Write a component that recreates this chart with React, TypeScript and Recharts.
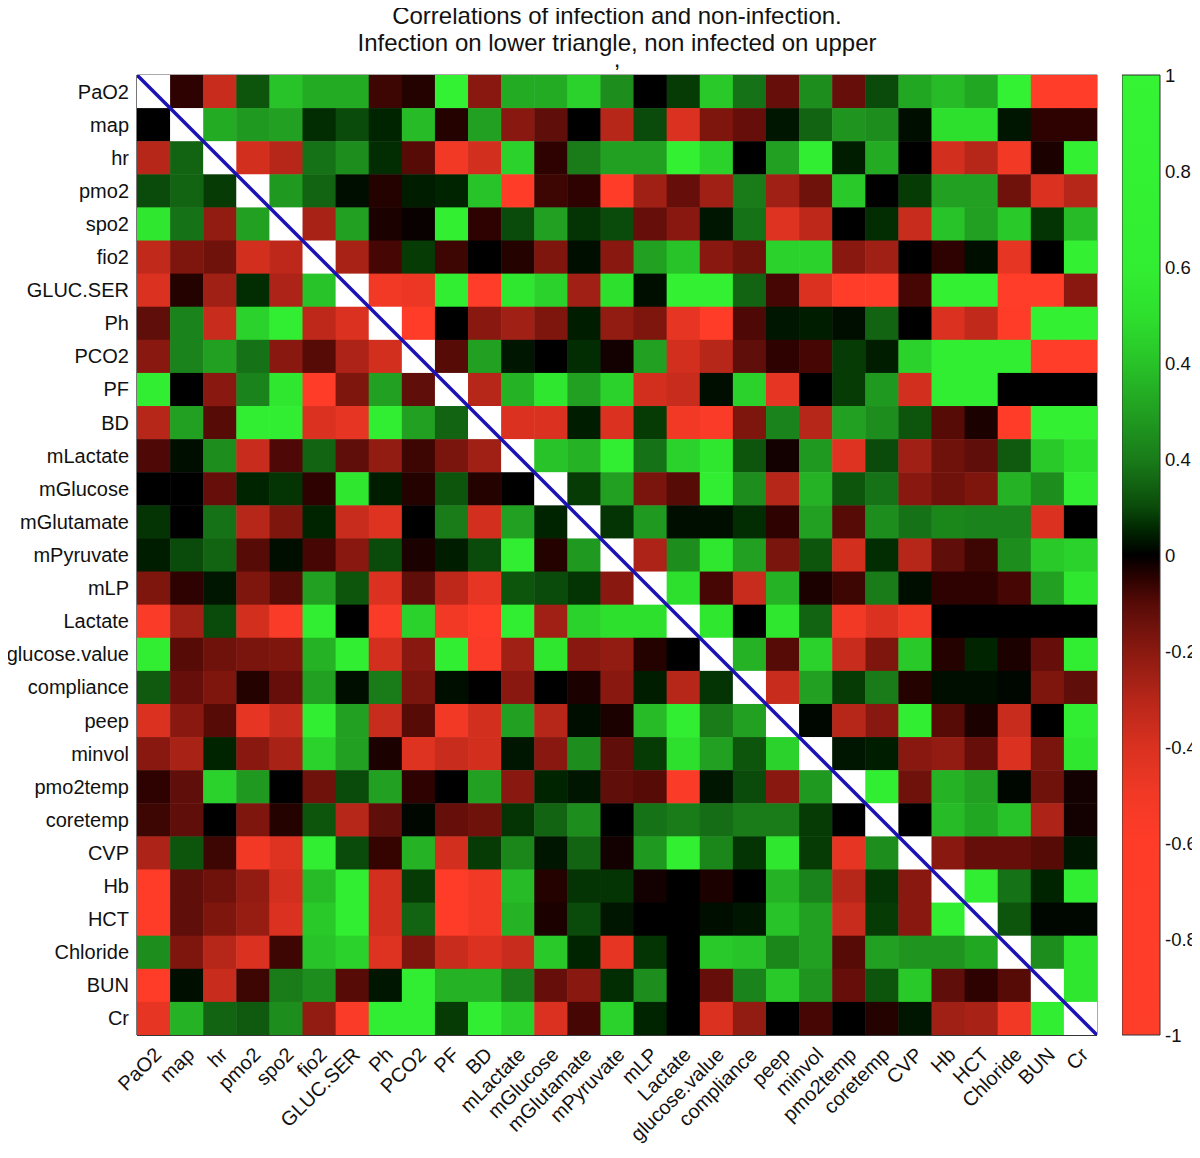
import React from "react";
import { ScatterChart, Scatter, XAxis, YAxis, ReferenceArea, BarChart, Bar } from "recharts";

const LABELS = ["PaO2","map","hr","pmo2","spo2","fio2","GLUC.SER","Ph","PCO2","PF","BD","mLactate","mGlucose","mGlutamate","mPyruvate","mLP","Lactate","glucose.value","compliance","peep","minvol","pmo2temp","coretemp","CVP","Hb","HCT","Chloride","BUN","Cr"];

const TITLE_LINES = ["Correlations of infection and non-infection.", "Infection on lower triangle, non infected on upper", ","];

// one row per variable (row = y label, column = x label)
const rowPaO2 = [1, -0.05, -0.35, 0.12, 0.4, 0.33, 0.33, -0.07, -0.04, 0.8, -0.2, 0.33, 0.33, 0.45, 0.25, 0, 0.08, 0.42, 0.18, -0.13, 0.25, -0.13, 0.1, 0.32, 0.38, 0.32, 0.8, -0.8, -0.8];
const rowMap = [0, 1, 0.33, 0.28, 0.3, 0.06, 0.1, 0.05, 0.38, -0.04, 0.3, -0.2, -0.12, 0, -0.3, 0.1, -0.4, -0.18, -0.13, 0.03, 0.15, 0.27, 0.25, 0.02, 0.5, 0.5, 0.03, -0.05, -0.05];
const rowHr = [-0.3, 0.15, 1, -0.38, -0.3, 0.18, 0.25, 0.06, -0.1, -0.5, -0.38, 0.45, -0.05, 0.2, 0.3, 0.3, 0.7, 0.45, 0, 0.3, 0.6, 0.04, 0.33, 0, -0.38, -0.3, -0.5, -0.03, 0.7];
const rowPmo2 = [0.1, 0.15, 0.08, 1, 0.28, 0.15, 0.02, -0.04, 0.04, 0.05, 0.4, -0.6, -0.07, -0.05, -0.6, -0.25, -0.13, -0.25, 0.2, -0.25, -0.15, 0.42, 0, 0.08, 0.3, 0.3, -0.15, -0.4, -0.3];
const rowSpo2 = [0.55, 0.18, -0.22, 0.3, 1, -0.27, 0.3, -0.03, -0.01, 0.65, -0.05, 0.1, 0.3, 0.07, 0.1, -0.13, -0.2, 0.03, 0.18, -0.42, -0.32, 0, 0.06, -0.35, 0.4, 0.3, 0.42, 0.07, 0.38];
const rowFio2 = [-0.33, -0.18, -0.15, -0.38, -0.32, 1, -0.27, -0.08, 0.08, -0.07, 0, -0.04, -0.18, 0.02, -0.2, 0.3, 0.4, -0.2, -0.15, 0.45, 0.45, -0.2, -0.25, 0, -0.05, 0.02, -0.45, 0, 0.7];
const rowGlucSer = [-0.4, -0.04, -0.25, 0.06, -0.28, 0.4, 1, -0.5, -0.48, 0.6, -0.7, 0.55, 0.45, -0.25, 0.5, 0.02, 0.7, 0.7, 0.15, -0.08, -0.4, -0.7, -0.7, -0.08, 0.7, 0.7, -0.7, -0.7, -0.2];
const rowPh = [-0.12, 0.22, -0.35, 0.45, 0.6, -0.32, -0.4, 1, -0.65, 0, -0.2, -0.25, -0.18, 0.04, -0.22, -0.18, -0.45, -0.6, -0.09, 0.03, 0.04, 0.02, 0.15, 0, -0.4, -0.33, -0.6, 0.7, 0.7];
const rowPco2 = [-0.2, 0.22, 0.3, 0.18, -0.2, -0.1, -0.28, -0.38, 1, -0.1, 0.3, 0.03, 0, 0.06, -0.02, 0.3, -0.38, -0.3, -0.12, -0.05, -0.08, 0.08, 0.04, 0.45, 0.6, 0.6, 0.6, -0.7, -0.7];
const rowPF = [0.6, 0, -0.2, 0.22, 0.55, -0.65, -0.18, 0.3, -0.12, 1, -0.3, 0.35, 0.55, 0.3, 0.45, -0.38, -0.35, 0.02, 0.45, -0.45, 0, 0.08, 0.28, -0.38, 0.6, 0.6, 0, 0, 0];
const rowBD = [-0.3, 0.3, -0.1, 0.6, 0.6, -0.4, -0.45, 0.6, 0.3, 0.15, 1, -0.4, -0.4, 0.04, -0.4, 0.08, -0.5, -0.55, -0.18, 0.22, -0.3, 0.3, 0.25, 0.12, -0.1, -0.03, -0.6, 0.7, 0.7];
const rowMLactate = [-0.09, 0.02, 0.25, -0.35, -0.09, 0.15, -0.12, -0.22, -0.07, -0.17, -0.25, 1, 0.4, 0.35, 0.6, 0.18, 0.45, 0.55, 0.12, -0.02, 0.28, -0.42, 0.1, -0.25, -0.15, -0.12, 0.13, 0.42, 0.5];
const rowMGlucose = [0, 0, -0.13, 0.05, 0.07, -0.05, 0.55, 0.04, -0.04, 0.12, -0.04, 0, 1, 0.08, 0.3, -0.17, -0.1, 0.6, 0.25, -0.3, 0.35, 0.12, 0.18, -0.2, -0.15, -0.18, 0.35, 0.25, 0.6];
const rowMGlutamate = [0.07, 0, 0.18, -0.3, -0.18, 0.05, -0.35, -0.42, 0, 0.2, -0.38, 0.3, 0.05, 1, 0.07, 0.28, 0.02, 0.02, 0.06, -0.05, 0.3, -0.1, 0.25, 0.18, 0.23, 0.22, 0.22, -0.4, 0];
const rowMPyruvate = [0.04, 0.1, 0.15, -0.1, 0.02, -0.08, -0.2, 0.1, -0.03, 0.04, 0.1, 0.6, -0.04, 0.28, 1, -0.28, 0.25, 0.55, 0.3, -0.17, 0.12, -0.38, 0.06, -0.3, -0.12, -0.07, 0.25, 0.42, 0.45];
const rowMLP = [-0.18, -0.05, 0.03, -0.18, -0.1, 0.3, 0.12, -0.4, -0.12, -0.32, -0.45, 0.12, 0.1, 0.07, -0.2, 1, 0.5, -0.08, -0.35, 0.35, -0.03, -0.07, 0.2, 0.02, -0.05, -0.05, -0.08, 0.3, 0.55];
const rowLactate = [-0.55, -0.25, 0.1, -0.38, -0.55, 0.6, 0, -0.55, 0.45, -0.5, -0.6, 0.6, -0.25, 0.45, 0.5, 0.5, 1, 0.55, 0, 0.55, 0.15, -0.5, -0.4, -0.5, 0, 0, 0, 0, 0];
const rowGlucoseValue = [0.6, -0.1, -0.15, -0.17, -0.18, 0.35, 0.6, -0.38, -0.2, 0.6, -0.55, -0.25, 0.55, -0.2, -0.22, -0.04, 0, 1, 0.35, -0.1, 0.45, -0.35, -0.18, 0.42, -0.04, 0.05, -0.03, -0.13, 0.6];
const rowCompliance = [0.13, -0.13, -0.18, -0.04, -0.13, 0.3, 0.02, 0.2, -0.17, 0.02, 0, -0.2, 0, -0.03, -0.2, 0.04, -0.3, 0.07, 1, -0.35, 0.3, 0.08, 0.2, -0.04, 0.02, 0.02, 0.01, -0.18, -0.12];
const rowPeep = [-0.4, -0.2, -0.1, -0.45, -0.35, 0.6, 0.3, -0.35, -0.1, -0.5, -0.38, 0.3, -0.3, 0.02, -0.03, 0.38, 0.6, 0.2, 0.3, 1, 0.01, -0.3, -0.2, 0.6, -0.1, -0.03, -0.35, 0, 0.6];
const rowMinvol = [-0.2, -0.27, 0.05, -0.2, -0.27, 0.45, 0.3, -0.03, -0.42, -0.35, -0.38, 0.03, -0.2, 0.25, -0.12, 0.08, 0.5, 0.3, 0.12, 0.45, 1, 0.03, 0.04, -0.2, -0.22, -0.13, -0.4, -0.17, 0.55];
const rowPmo2temp = [-0.05, -0.12, 0.45, 0.28, 0, -0.15, 0.1, 0.3, -0.05, 0, 0.3, -0.2, 0.05, 0.03, -0.12, -0.1, -0.55, 0.03, 0.1, -0.2, 0.28, 1, 0.6, -0.15, 0.35, 0.3, 0.01, -0.15, -0.02];
const rowCoretemp = [-0.07, -0.12, 0, -0.18, -0.04, 0.12, -0.3, -0.12, 0.01, -0.13, -0.15, 0.07, 0.15, 0.25, 0, 0.18, 0.2, 0.17, 0.2, 0.2, 0.08, 0, 1, 0, 0.38, 0.32, 0.4, -0.28, -0.02];
const rowCVP = [-0.28, 0.12, -0.07, -0.5, -0.42, 0.6, 0.1, -0.06, 0.35, -0.38, 0.08, 0.23, 0.03, 0.15, -0.02, 0.28, 0.65, 0.23, 0.07, 0.55, 0.08, -0.45, 0.25, 1, -0.2, -0.13, -0.13, -0.1, 0.03];
const rowHb = [-0.6, -0.12, -0.15, -0.22, -0.38, 0.38, 0.6, -0.38, 0.08, -0.6, -0.5, 0.38, -0.04, 0.07, 0.07, -0.02, 0, -0.03, 0, 0.35, 0.22, -0.3, 0.07, -0.2, 1, 0.6, 0.18, 0.05, 0.6];
const rowHCT = [-0.6, -0.12, -0.18, -0.23, -0.4, 0.42, 0.6, -0.38, 0.15, -0.6, -0.5, 0.35, -0.03, 0.1, 0.03, 0, 0, 0.02, 0.03, 0.4, 0.3, -0.35, 0.08, -0.2, 0.6, 1, 0.12, 0.01, 0.01];
const rowChloride = [0.25, -0.18, -0.3, -0.4, -0.07, 0.4, 0.45, -0.42, -0.18, -0.35, -0.4, -0.35, 0.42, 0.05, -0.45, 0.07, 0, 0.42, 0.4, 0.23, 0.3, -0.1, 0.3, 0.27, 0.27, 0.32, 1, 0.25, 0.55];
const rowBUN = [-0.6, 0.02, -0.35, -0.07, 0.2, 0.25, -0.1, 0.03, 0.6, 0.35, 0.35, 0.2, -0.13, -0.2, 0.06, 0.25, 0, -0.13, 0.22, 0.42, 0.27, -0.13, 0.12, 0.42, -0.12, -0.05, -0.1, 1, 0.55];
const rowCr = [-0.45, 0.35, 0.15, 0.13, 0.25, -0.22, -0.55, 0.6, 0.6, 0.08, 0.6, 0.45, -0.4, -0.08, 0.45, 0.05, 0, -0.4, -0.22, 0, -0.08, 0, -0.04, 0.03, -0.25, -0.27, -0.5, 0.6, 1];

const MATRIX = [rowPaO2, rowMap, rowHr, rowPmo2, rowSpo2, rowFio2, rowGlucSer, rowPh, rowPco2, rowPF, rowBD, rowMLactate, rowMGlucose, rowMGlutamate, rowMPyruvate, rowMLP, rowLactate, rowGlucoseValue, rowCompliance, rowPeep, rowMinvol, rowPmo2temp, rowCoretemp, rowCVP, rowHb, rowHCT, rowChloride, rowBUN, rowCr];

const CB_TICKS = [1, 0.8, 0.6, 0.4, 0.2, 0, -0.2, -0.4, -0.6, -0.8, -1];
const CB_LABELS = ["1", "0.8", "0.6", "0.4", "0.4", "0", "-0.2", "-0.4", "-0.6", "-0.8", "-1"];
const CB_RANGE = [-1, 1];

// colormap (style): red -> black -> green
const CMAP: [number, number[]][] = [
  [-1, [255, 62, 42]],
  [-0.6, [255, 60, 40]],
  [-0.5, [242, 57, 38]],
  [-0.4, [218, 49, 32]],
  [-0.3, [182, 38, 25]],
  [-0.2, [137, 25, 16]],
  [-0.15, [112, 18, 12]],
  [-0.1, [86, 11, 7]],
  [-0.05, [45, 2, 0]],
  [0, [0, 0, 0]],
  [0.05, [0, 36, 0]],
  [0.1, [10, 74, 10]],
  [0.15, [18, 100, 18]],
  [0.2, [25, 124, 25]],
  [0.3, [33, 160, 33]],
  [0.4, [40, 195, 40]],
  [0.5, [46, 224, 46]],
  [0.6, [50, 238, 50]],
  [1, [52, 244, 52]],
];

function colorOf(v: number): string {
  if (v <= CMAP[0][0]) return `rgb(${CMAP[0][1].join(",")})`;
  for (let i = 1; i < CMAP.length; i++) {
    const [v1, c1] = CMAP[i];
    const [v0, c0] = CMAP[i - 1];
    if (v <= v1) {
      const t = (v - v0) / (v1 - v0);
      const c = c0.map((a, k) => Math.round(a + (c1[k] - a) * t));
      return `rgb(${c.join(",")})`;
    }
  }
  return `rgb(${CMAP[CMAP.length - 1][1].join(",")})`;
}

const N = LABELS.length;
const PLOT = 960;
const CELL = PLOT / N;
const FONT = "'Liberation Sans', Arial, Helvetica, sans-serif";
const IDX = LABELS.map((_, i) => i);

const cells: { x: number; y: number; v: number; diag: boolean }[] = [];
MATRIX.forEach((row, r) => {
  row.forEach((v, c) => {
    cells.push({ x: c, y: r, v, diag: r === c });
  });
});

// diagonal line goes corner to corner of the cell grid (axis domain edges)
const diagLine = [
  { x: -0.5, y: -0.5 },
  { x: N - 0.5, y: N - 0.5 },
];

const cbData = [{ name: "cb", range: CB_RANGE }];

const CellShape = (p: any) => {
  const { cx, cy, payload } = p;
  if (cx == null || cy == null) return null;
  return (
    <rect
      x={cx - CELL / 2}
      y={cy - CELL / 2}
      width={CELL + 0.5}
      height={CELL + 0.5}
      fill={payload.diag ? "#ffffff" : colorOf(payload.v)}
      stroke="none"
    />
  );
};

const NoShape = () => <g />;

const YTick = (p: any) => {
  const { x, y, payload } = p;
  return (
    <text x={x} y={y} textAnchor="end" dominantBaseline="central" fontSize={20} fontFamily={FONT} fill="#111">
      {LABELS[payload.value]}
    </text>
  );
};

const XTick = (p: any) => {
  const { x, y, payload } = p;
  return (
    <text
      transform={`translate(${x + 4},${y + 10}) rotate(-45)`}
      textAnchor="end"
      dy="0.35em"
      fontSize={20}
      fontFamily={FONT}
      fill="#111"
    >
      {LABELS[payload.value]}
    </text>
  );
};

const CbTick = (p: any) => {
  const { x, y, payload } = p;
  const i = CB_TICKS.indexOf(payload.value);
  return (
    <text x={x} y={y} textAnchor="start" dominantBaseline="central" fontSize={18.5} fontFamily={FONT} fill="#111">
      {CB_LABELS[i]}
    </text>
  );
};

export default function App() {
  return (
    <div style={{ position: "relative", width: 1184, height: 1142, background: "#fff" }}>
      <svg width={0} height={0} style={{ position: "absolute" }}>
        <defs>
          <linearGradient id="cbGrad" x1="0" y1="0" x2="0" y2="1">
            {CMAP.slice().reverse().map(([v, c], i) => (
              <stop key={i} offset={`${((1 - v) / 2) * 100}%`} stopColor={`rgb(${c.join(",")})`} />
            ))}
          </linearGradient>
        </defs>
      </svg>
      {TITLE_LINES.map((t, i) => (
        <div
          key={i}
          style={{
            position: "absolute",
            left: 209,
            top: [-6, 21, 37][i],
            width: 800,
            textAlign: "center",
            fontFamily: FONT,
            fontSize: 24,
            lineHeight: "27px",
            color: "#111",
            whiteSpace: "nowrap",
          }}
        >
          {t}
        </div>
      ))}
      <div style={{ position: "absolute", left: 0, top: 0 }}>
        <ScatterChart width={1100} height={1140} margin={{ top: 67, right: 11, bottom: 23, left: 4 }}>
          <XAxis
            type="number"
            dataKey="x"
            domain={[-0.5, N - 0.5]}
            ticks={IDX}
            interval={0}
            tick={<XTick />}
            tickLine={false}
            axisLine={{ stroke: "#111", strokeWidth: 1.5 }}
            tickSize={0}
            tickMargin={6}
            height={90}
            allowDataOverflow
          />
          <YAxis
            type="number"
            dataKey="y"
            domain={[-0.5, N - 0.5]}
            reversed
            ticks={IDX}
            interval={0}
            tick={<YTick />}
            tickLine={false}
            axisLine={{ stroke: "#444", strokeWidth: 1 }}
            tickSize={0}
            tickMargin={8}
            width={125}
            allowDataOverflow
          />
          <Scatter data={cells} shape={<CellShape />} isAnimationActive={false} />
          <ReferenceArea
            x1={-0.5}
            x2={N - 0.5}
            y1={-0.5}
            y2={N - 0.5}
            fill="none"
            fillOpacity={0}
            stroke="#555"
            strokeWidth={1}
          />
          <Scatter
            data={diagLine}
            shape={<NoShape />}
            line={{ stroke: "#1c12b4", strokeWidth: 3.5 }}
            lineType="joint"
            isAnimationActive={false}
          />
        </ScatterChart>
      </div>
      <div style={{ position: "absolute", left: 1114, top: 0 }}>
        <BarChart
          width={76}
          height={1140}
          data={cbData}
          margin={{ top: 67, right: 0, bottom: 113, left: 0 }}
          barCategoryGap={0}
        >
          <XAxis dataKey="name" hide />
          <YAxis
            yAxisId="lab"
            type="number"
            orientation="right"
            domain={[-1, 1]}
            ticks={CB_TICKS}
            interval={0}
            tick={<CbTick />}
            tickLine={false}
            axisLine={false}
            tickSize={0}
            tickMargin={5}
            width={38}
          />
          <YAxis
            yAxisId="tl"
            type="number"
            orientation="left"
            domain={[-1, 1]}
            ticks={CB_TICKS.slice(1, -1)}
            interval={0}
            mirror
            tick={false}
            tickLine={{ stroke: "#333" }}
            tickSize={8}
            axisLine={false}
            width={0}
          />
          <YAxis
            yAxisId="tr"
            type="number"
            orientation="right"
            domain={[-1, 1]}
            ticks={CB_TICKS.slice(1, -1)}
            interval={0}
            mirror
            tick={false}
            tickLine={{ stroke: "#333" }}
            tickSize={8}
            axisLine={false}
            width={0}
          />
          <Bar
            yAxisId="lab"
            dataKey="range"
            fill="url(#cbGrad)"
            stroke="#333"
            strokeWidth={1}
            isAnimationActive={false}
          />
        </BarChart>
      </div>
    </div>
  );
}
